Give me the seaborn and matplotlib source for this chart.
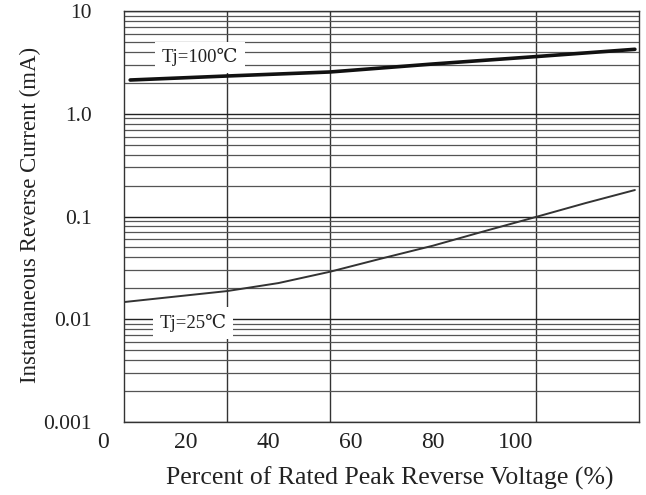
import numpy as np
import pandas as pd
import matplotlib
matplotlib.use("Agg")
import matplotlib.pyplot as plt
import matplotlib.ticker as mticker
import seaborn as sns

# ---- data ----
x_100 = [6.5, 30, 55, 80, 105, 129]
i_100 = [2.13, 2.33, 2.55, 3.05, 3.6, 4.24]

x_25 = [5, 30, 42.5, 55, 67.5, 80, 92.5, 105, 117, 129]
i_25 = [0.0147, 0.0188, 0.0225, 0.029, 0.039, 0.052, 0.072, 0.099, 0.135, 0.181]

x_tick_vals = [20, 40, 60, 80, 100]
x_tick_labels = ["20", "40", "60", "80", "100"]
x_grid_vals = [30, 55, 80, 105]
y_tick_vals = [0.001, 0.01, 0.1, 1.0, 10]
y_tick_labels = ["0.001", "0.01", "0.1", "1.0", "10"]

df = pd.concat([
    pd.DataFrame({"x": x_100, "y": i_100, "Tj": "100"}),
    pd.DataFrame({"x": x_25, "y": i_25, "Tj": "25"}),
])

sns.set_style("white")
serif = ["Liberation Serif", "DejaVu Serif"]
plt.rcParams["font.family"] = serif

fig = plt.figure(figsize=(6.46, 4.95), dpi=100)
ax = fig.add_axes([124 / 646, 1 - 422 / 495, (639 - 124) / 646, (422 - 11) / 495])

sns.lineplot(data=df[df.Tj == "100"], x="x", y="y", ax=ax, color="#111111",
             linewidth=2.6, legend=False, zorder=4)
sns.lineplot(data=df[df.Tj == "25"], x="x", y="y", ax=ax, color="#333333",
             linewidth=1.4, legend=False, zorder=4)

ax.set_yscale("log")
ax.set_xlim(5, 130)
ax.set_ylim(0.001, 10)

ax.yaxis.set_major_locator(mticker.FixedLocator(y_tick_vals))
ax.yaxis.set_major_formatter(mticker.FixedFormatter(y_tick_labels))
ax.yaxis.set_minor_locator(mticker.LogLocator(base=10, subs=np.arange(2, 10), numticks=20))
ax.yaxis.set_minor_formatter(mticker.NullFormatter())

ax.xaxis.set_major_locator(mticker.FixedLocator(x_tick_vals))
ax.xaxis.set_major_formatter(mticker.FixedFormatter(x_tick_labels))
ax.xaxis.set_minor_locator(mticker.FixedLocator(x_grid_vals))

ax.grid(False)
ax.grid(True, which="major", axis="y", color="#222222", linewidth=1.0)
ax.grid(True, which="minor", axis="y", color="#555555", linewidth=0.9)
ax.grid(True, which="minor", axis="x", color="#333333", linewidth=1.0)

ax.tick_params(which="both", length=0)
ax.tick_params(axis="x", labelsize=17, pad=7, colors="#222222")
ax.tick_params(axis="y", labelsize=15.5, pad=23, colors="#222222")
for lab in ax.get_yticklabels():
    lab.set_horizontalalignment("right")

# "0" label sits left of the plotted range
ax.annotate("0", xy=(0, 0), xycoords=("data", "axes fraction"),
            xytext=(0, -7), textcoords="offset points", ha="center", va="top",
            fontsize=17, color="#222222", annotation_clip=False)

for s in ax.spines.values():
    s.set_color("#333333")
    s.set_linewidth(1.0)

ax.set_xlabel("Percent of Rated Peak Reverse Voltage (%)", fontsize=18.5,
              color="#222222")
ax.xaxis.set_label_coords((390 - 124) / 515, -(478 - 422) / 411)
ax.xaxis.label.set_va("center")
ax.set_ylabel("Instantaneous Reverse Current (mA)", fontsize=16.5,
              color="#222222")
ax.yaxis.set_label_coords(-(124 - 30) / 515, (422 - 215) / 411)
ax.yaxis.label.set_va("center")

bb = dict(boxstyle="square,pad=0.35", facecolor="white", edgecolor="none")
ax.text(23.4, 3.55, "Tj=100℃", fontsize=13.5, ha="center", va="center",
        bbox=bb, zorder=5, family=serif, color="#222222")
ax.text(21.7, 0.0092, "Tj=25℃", fontsize=13.5, ha="center", va="center",
        bbox=bb, zorder=5, family=serif, color="#222222")

fig.savefig("out.png", dpi=100)
